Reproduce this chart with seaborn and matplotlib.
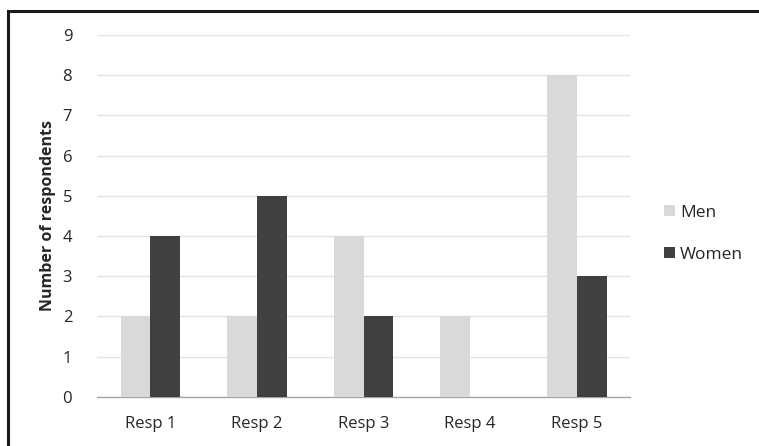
import pandas as pd
import matplotlib.pyplot as plt
import seaborn as sns
from matplotlib.patches import Rectangle

# Datos
categorias = ['Resp 1', 'Resp 2', 'Resp 3', 'Resp 4', 'Resp 5']
hombres = [2, 2, 4, 2, 8]
mujeres = [4, 5, 2, 0, 3]
series = ['Men', 'Women']
colores = ['#d9d9d9', '#404040']

df = pd.DataFrame({
    'resp': categorias * 2,
    'grupo': ['Men'] * len(categorias) + ['Women'] * len(categorias),
    'valor': hombres + mujeres,
})

sns.set_theme(style="white")
plt.rcParams['font.family'] = ['Open Sans', 'DejaVu Sans']

fig = plt.figure(figsize=(7.59, 4.46), dpi=100)
ax = fig.add_axes([0.128, 0.110, 0.702, 0.812])

sns.barplot(data=df, x='resp', y='valor', hue='grupo', hue_order=series,
            palette=colores, width=0.56, saturation=1, linewidth=0,
            ax=ax, zorder=3)

ax.set_ylim(0, 9)
ax.set_yticks(range(0, 10))
ax.yaxis.grid(True, color='#e3e3e3', linewidth=1, zorder=0)
ax.set_axisbelow(True)
for lado in ['top', 'right', 'left']:
    ax.spines[lado].set_visible(False)
ax.spines['bottom'].set_color('#a6a6a6')
ax.spines['bottom'].set_linewidth(1)
ax.tick_params(axis='both', length=0, labelsize=12, colors='#262626')
ax.tick_params(axis='x', pad=14)
ax.tick_params(axis='y', pad=18)
ax.set_xlabel('')
ax.set_ylabel('Number of respondents', fontsize=11.5, fontweight='bold', labelpad=5)

leg = ax.legend(loc='center left', bbox_to_anchor=(1.035, 0.45), frameon=False,
                fontsize=12.5, handlelength=0.6, handleheight=0.6, handletextpad=0.3,
                labelspacing=1.5)

# marco del gráfico (solo se ven bordes superior e izquierdo)
fig.patches.append(Rectangle((7.5 / 759, -0.1), 1.2, 1 - 10.5 / 446 + 0.1,
                             transform=fig.transFigure, fill=False,
                             edgecolor='#1a1a1a', linewidth=2.2))

fig.savefig('out.png', dpi=100)
